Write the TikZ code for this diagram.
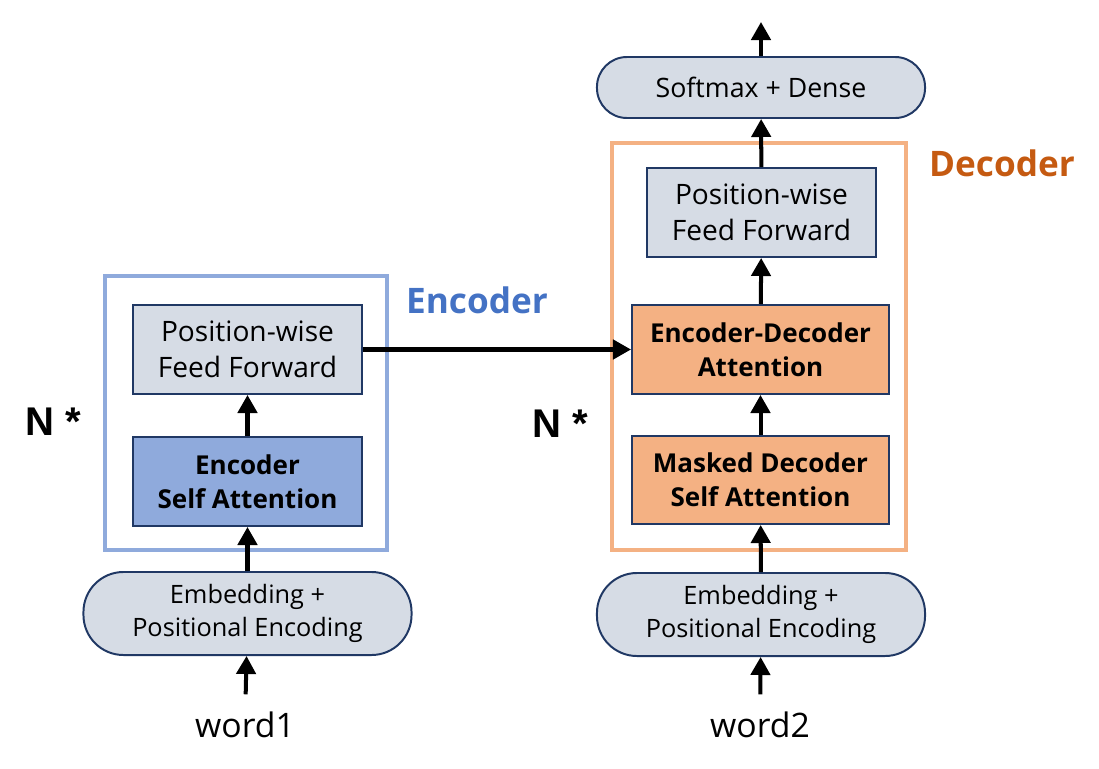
\documentclass[tikz,border=0pt]{standalone}
\usepackage{fontspec}
\setmainfont{Open Sans}
\newfontfamily\nfont{Liberation Sans}
\usepackage{xcolor}
\usepackage{tikz}
\usetikzlibrary{arrows.meta}

\definecolor{boxline}{HTML}{203864}
\definecolor{boxgray}{HTML}{D6DCE5}
\definecolor{encblue}{HTML}{8FAADC}
\definecolor{decorange}{HTML}{F4B183}
\definecolor{enctext}{HTML}{4472C4}
\definecolor{dectext}{HTML}{C55A11}

\begin{document}
\begin{tikzpicture}[x=0.025cm, y=-0.025cm,
    block/.style={draw=boxline, line width=1.4pt, minimum height=2.225cm, align=center},
    ffbox/.style={block, fill=boxgray, minimum width=5.725cm, font=\fontsize{20}{25.5}\selectfont},
    attbox/.style={block, font=\bfseries\fontsize{18.5}{24.5}\selectfont},
    pill/.style={draw=boxline, line width=1.4pt, fill=boxgray, align=center, minimum width=8.2cm},
    frame/.style={line width=2.85pt},
    flow/.style={-{Triangle[width=0.48cm, length=0.45cm]}, line width=2.85pt},
    wordtext/.style={font=\fontsize{24}{28}\selectfont, inner sep=0.42cm, anchor=base},
    ntext/.style={font=\nfont\bfseries\fontsize{28.5}{32}\selectfont},
    sidetext/.style={font=\bfseries\fontsize{25}{30}\selectfont}
]
                \useasboundingbox (0,0) rectangle (1099,769);

                % Encoder and decoder frames
                \draw[frame, encblue] (105,276) rectangle (387,550);
                \draw[frame, decorange] (612,143) rectangle (906,550);

                % Encoder side
                \node[wordtext] (word1) at (245,737) {word1};
                \node[pill, rounded corners=1cm, minimum height=2.075cm, font=\fontsize{18}{23.5}\selectfont] (embE) at (247.5,613.5) {Embedding +\\Positional Encoding};
                \node[attbox, fill=encblue, minimum width=5.725cm] (selfE) at (247.5,481.5) {Encoder\\Self Attention};
                \node[ffbox] (ffE) at (247.5,349.5) {Position-wise\\Feed Forward};

                % Decoder side
                \node[wordtext] (word2) at (760,737) {word2};
                \node[pill, rounded corners=1cm, minimum height=2.075cm, font=\fontsize{18}{23.5}\selectfont] (embD) at (761,614.5) {Embedding +\\Positional Encoding};
                \node[attbox, fill=decorange, minimum width=6.425cm, minimum height=2.2cm] (maskD) at (760.5,480) {Masked Decoder\\Self Attention};
                \node[attbox, fill=decorange, minimum width=6.425cm] (crossD) at (760.5,349.5) {Encoder-Decoder\\Attention};
                \node[ffbox] (ffD) at (761.5,212.5) {Position-wise\\Feed Forward};
                \node[pill, rounded corners=0.75cm, minimum height=1.525cm, font=\fontsize{19}{23}\selectfont] (outD) at (761,87.5) {Softmax + Dense};
                \coordinate (top) at (761,22);

                % Labels
                \node[ntext] (nE) at (53,422) {N *};
                \node[ntext] (nD) at (560,424) {N *};
                \node[sidetext, enctext] (encL) at (477,300) {Encoder};
                \node[sidetext, dectext] (decL) at (1002,163) {Decoder};

                % Arrows
                \draw[flow] (word1) -- (embE);
                \draw[flow] (embE) -- (selfE);
                \draw[flow] (selfE) -- (ffE);
                \draw[flow] (ffE.east) -- (crossD.west);
                \draw[flow] (word2) -- (embD);
                \draw[flow] (embD) -- (maskD);
                \draw[flow] (maskD) -- (crossD);
                \draw[flow] (crossD) -- (ffD);
                \draw[flow] (ffD) -- (outD);
                \draw[flow] (outD) -- (top);
            \end{tikzpicture}
\end{document}
